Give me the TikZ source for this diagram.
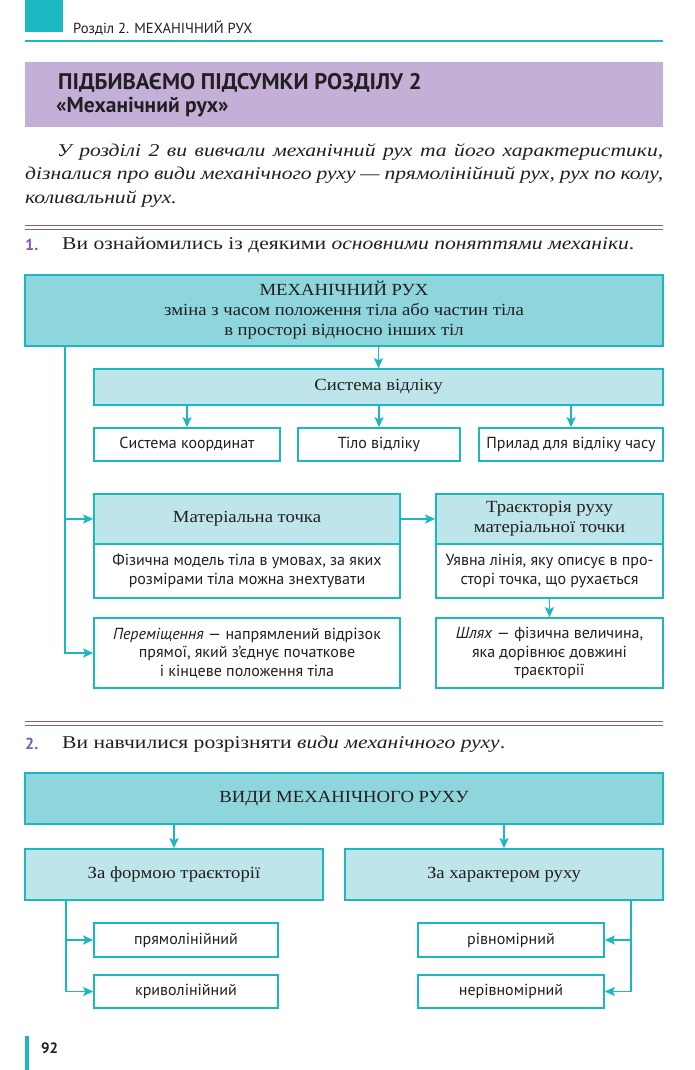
\documentclass[tikz,border=0pt]{standalone}
\usepackage{fontspec}
\setmainfont[FakeStretch=1.2]{Liberation Serif}
\newfontfamily\boxserif[FakeStretch=1.1]{Liberation Serif}
\setsansfont{PT Sans}
\usetikzlibrary{arrows.meta}
\definecolor{tealline}{HTML}{1CB8C1}
\definecolor{tealdark}{HTML}{8ED5DC}
\definecolor{teallight}{HTML}{BDE5EA}
\definecolor{lilac}{HTML}{C4AFD7}
\definecolor{rulepurple}{HTML}{7B5CB6}
\definecolor{inkdark}{HTML}{231F20}
\tikzset{
  box/.style={draw=tealline, line width=1.6pt, inner sep=2pt, align=center, text=inkdark},
  darkbox/.style={box, fill=tealdark, font=\boxserif\fontsize{17}{20}\selectfont},
  lightbox/.style={box, fill=teallight, font=\boxserif\fontsize{17}{20}\selectfont},
  plainbox/.style={box, fill=white, font=\sffamily\fontsize{16}{18.5}\selectfont},
  link/.style={draw=tealline, line width=1.6pt, -{Stealth[length=10pt,width=9pt,inset=2pt]}},
  numlabel/.style={anchor=west, inner sep=0, text=rulepurple, font=\sffamily\bfseries\fontsize{16}{19}\selectfont},
  leadtext/.style={anchor=west, inner sep=0, text=inkdark, font=\fontsize{18}{21}\selectfont}
}
\begin{document}
\begin{tikzpicture}[x=1pt, y=-1pt]
\useasboundingbox[fill=white] (0,0) rectangle (695,1070);

\fill[tealline] (25,0) rectangle (63,32);
\draw[tealline, line width=2pt] (25,41) -- (663,41);
\node[anchor=west, inner sep=0, text=inkdark, font=\sffamily\fontsize{14.6}{16}\selectfont] (runhead) at (73,28) {Розділ 2. МЕХАНІЧНИЙ РУХ};

\fill[lilac] (25,62) rectangle (663,127);
\node[anchor=west, inner sep=0, text=inkdark, font=\sffamily\bfseries\fontsize{22.6}{26}\selectfont] (title) at (58,83) {ПІДБИВАЄМО ПІДСУМКИ РОЗДІЛУ 2};
\node[anchor=west, inner sep=0, text=inkdark, font=\sffamily\bfseries\fontsize{21.5}{24}\selectfont] (subtitle) at (56,107) {«Механічний рух»};

\node[anchor=north west, inner sep=0, text width=638pt, align=justify, text=inkdark, font=\itshape\fontsize{18}{23.5}\selectfont] (intro) at (25,143)
  {\hspace*{32pt}У розділі 2 ви вивчали механічний рух та його характеристики,\linebreak дізналися про види механічного руху — прямолінійний рух, рух по колу,\linebreak коливальний рух.};

\draw[rulepurple, line width=1.6pt] (25,225.5) -- (663,225.5);
\draw[rulepurple, line width=1.6pt] (25,229.5) -- (663,229.5);
\node[numlabel] (num1) at (25,245) {1.};
\node[leadtext] (lead1) at (62,245) {Ви ознайомились із деякими \textit{основними поняттями механіки}.};

\node[darkbox, minimum width=638pt, minimum height=71pt] (mech) at (344,310.5)
  {МЕХАНІЧНИЙ РУХ\\ зміна з часом положення тіла або частин тіла\\ в просторі відносно інших тіл};
\node[lightbox, minimum width=569pt, minimum height=36pt] (frame) at (378.5,387) {Система відліку};
\node[plainbox, minimum width=186pt, minimum height=33pt] (coord) at (187,444.5) {Система координат};
\node[plainbox, minimum width=162pt, minimum height=33pt] (refbody) at (379,444.5) {Тіло відліку};
\node[plainbox, minimum width=184pt, minimum height=33pt] (clock) at (571,444.5) {Прилад для відліку часу};

\node[lightbox, minimum width=306pt, minimum height=50pt] (point) at (247,519) {Матеріальна точка};
\node[plainbox, minimum width=306pt, minimum height=54pt] (pointdef) at (247,571) {Фізична модель тіла в умовах, за яких\\ розмірами тіла можна знехтувати};
\node[lightbox, minimum width=227pt, minimum height=50pt] (traj) at (549.5,519) {Траєкторія руху\\ матеріальної точки};
\node[plainbox, minimum width=227pt, minimum height=54pt] (trajdef) at (549.5,571) {Уявна лінія, яку описує в про-\\сторі точка, що рухається};
\node[plainbox, minimum width=306pt, minimum height=70pt] (displ) at (247,653) {\textit{Переміщення} — напрямлений відрізок\\ прямої, який з’єднує початкове\\ і кінцеве положення тіла};
\node[plainbox, minimum width=227pt, minimum height=70pt] (pathlen) at (549.5,653) {\textit{Шлях} — фізична величина,\\ яка дорівнює довжині\\ траєкторії};

\coordinate (trunk) at (65,346);
\draw[link] (frame.north |- mech.south) -- (frame.north);
\draw[link] (coord.north |- frame.south) -- (coord.north);
\draw[link] (refbody.north |- frame.south) -- (refbody.north);
\draw[link] (clock.north |- frame.south) -- (clock.north);
\draw[link] (trunk) |- (displ.west);
\draw[link] (trunk |- point.west) -- (point.west);
\draw[link] (point.east) -- (traj.west);
\draw[link] (trajdef.south) -- (pathlen.north);

\draw[rulepurple, line width=1.6pt] (25,721.5) -- (663,721.5);
\draw[rulepurple, line width=1.6pt] (25,725.5) -- (663,725.5);
\node[numlabel] (num2) at (25,744) {2.};
\node[leadtext] (lead2) at (62,744) {Ви навчилися розрізняти \textit{види механічного руху}.};

\node[darkbox, minimum width=638pt, minimum height=51pt] (kinds) at (344,798.5) {ВИДИ МЕХАНІЧНОГО РУХУ};
\node[lightbox, minimum width=298pt, minimum height=51pt] (byshape) at (174,874.5) {За формою траєкторії};
\node[lightbox, minimum width=318pt, minimum height=51pt] (bychar) at (504,874.5) {За характером руху};
\node[plainbox, minimum width=184pt, minimum height=34pt] (straight) at (186,940) {прямолінійний};
\node[plainbox, minimum width=184pt, minimum height=33pt] (curved) at (186,991.5) {криволінійний};
\node[plainbox, minimum width=186pt, minimum height=34pt] (uniform) at (511,940) {рівномірний};
\node[plainbox, minimum width=186pt, minimum height=33pt] (nonuniform) at (511,991.5) {нерівномірний};

\coordinate (shapetrunk) at (66,900);
\coordinate (chartrunk) at (631,900);
\draw[link] (byshape.north |- kinds.south) -- (byshape.north);
\draw[link] (bychar.north |- kinds.south) -- (bychar.north);
\draw[link] (shapetrunk) |- (straight.west);
\draw[link] (shapetrunk) |- (curved.west);
\draw[link] (chartrunk) |- (uniform.east);
\draw[link] (chartrunk) |- (nonuniform.east);

\fill[tealline] (25,1036) rectangle (28.5,1070);
\node[anchor=west, inner sep=0, text=inkdark, font=\sffamily\bfseries\fontsize{15}{18}\selectfont] (pagenum) at (41,1048) {92};
\end{tikzpicture}
\end{document}
